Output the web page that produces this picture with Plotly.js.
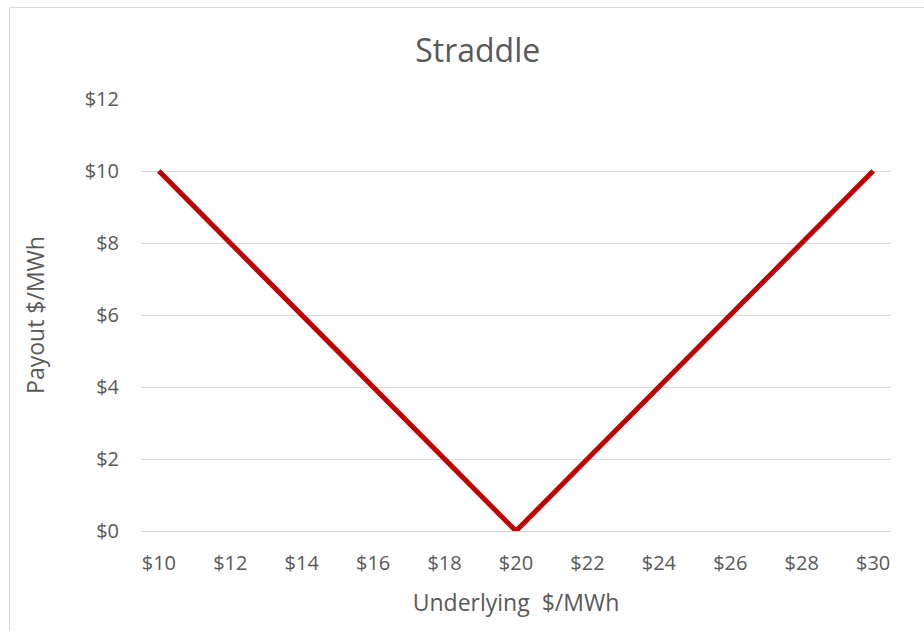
<!DOCTYPE html>
<html>
<head>
<meta charset="utf-8">
<script src="https://cdn.plot.ly/plotly-3.0.1.min.js"></script>
<style>
  html, body { margin: 0; padding: 0; background: #fff; }
  #wrap { position: relative; width: 924px; height: 631px; }
  #chart { width: 924px; height: 631px; }
  #frame { position: absolute; left: 9px; top: 7px; width: 930px; height: 640px;
           border-top: 1px solid #d9d9d9; border-left: 1px solid #d9d9d9; pointer-events: none; }
</style>
</head>
<body>
<div id="wrap">
  <div id="chart"></div>
  <div id="frame"></div>
</div>
<script>
// Underlying price ($/MWh) and straddle payout ($/MWh)
const underlying = [10, 11, 12, 13, 14, 15, 16, 17, 18, 19, 20, 21, 22, 23, 24, 25, 26, 27, 28, 29, 30];
const payout     = [10,  9,  8,  7,  6,  5,  4,  3,  2,  1,  0,  1,  2,  3,  4,  5,  6,  7,  8,  9, 10];
const xTickVals  = [10, 12, 14, 16, 18, 20, 22, 24, 26, 28, 30];
const xTickText  = ['$10', '$12', '$14', '$16', '$18', '$20', '$22', '$24', '$26', '$28', '$30'];
const yTickVals  = [0, 2, 4, 6, 8, 10, 12];
const yTickText  = ['$0', '$2', '$4', '$6', '$8', '$10', '$12'];

const FONT = '"Open Sans", Lato, sans-serif';
const GREY = '#595959';

const trace = {
  x: underlying,
  y: payout,
  type: 'scatter',
  mode: 'lines',
  line: { color: '#C00000', width: 5 },
  hoverinfo: 'x+y'
};

const layout = {
  width: 924,
  height: 631,
  margin: { l: 141, r: 33, t: 99, b: 100 },
  paper_bgcolor: '#ffffff',
  plot_bgcolor: '#ffffff',
  showlegend: false,
  font: { family: FONT, color: GREY, size: 20 },
  title: {
    text: 'Straddle',
    font: { family: FONT, size: 32, color: GREY },
    x: 0.517, xanchor: 'center',
    y: 0.92, yanchor: 'middle', yref: 'container'
  },
  xaxis: {
    range: [9.5, 30.5],
    tickvals: xTickVals,
    ticktext: xTickText,
    showgrid: false,
    zeroline: false,
    showline: false,
    ticks: '',
    ticklabelstandoff: 18,
    tickfont: { family: FONT, size: 20, color: GREY },
    title: { text: 'Underlying  $/MWh', font: { family: FONT, size: 23, color: GREY }, standoff: 19 }
  },
  yaxis: {
    range: [0, 12],
    tickvals: yTickVals,
    ticktext: yTickText,
    showgrid: true,
    gridcolor: '#d9d9d9',
    gridwidth: 1,
    zeroline: true,
    zerolinecolor: '#d0d0d0',
    zerolinewidth: 1,
    showline: false,
    ticks: '',
    ticklabelstandoff: 21,
    tickfont: { family: FONT, size: 20, color: GREY },
    title: { text: 'Payout $/MWh', font: { family: FONT, size: 23, color: GREY }, standoff: 33 }
  }
};

Plotly.newPlot('chart', [trace], layout, { displayModeBar: false, staticPlot: true });
</script>
</body>
</html>
